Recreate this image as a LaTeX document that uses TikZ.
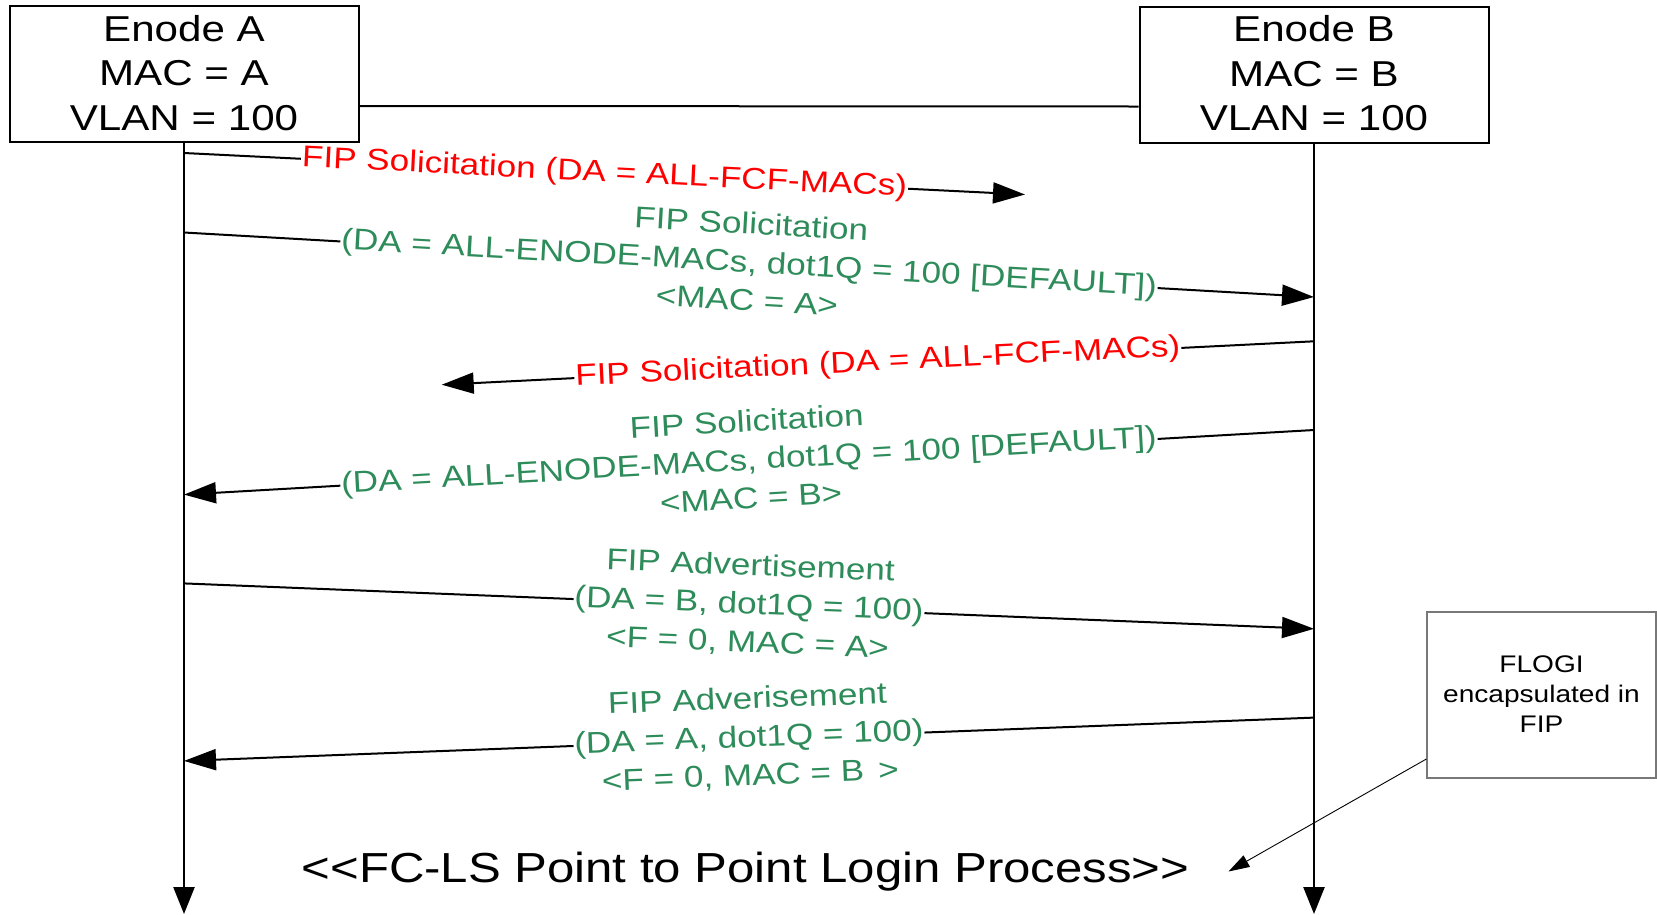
\documentclass[tikz,border=0pt]{standalone}
\usepackage{fontspec}
\setmainfont{Liberation Sans}[Ligatures=TeXOff]
\usetikzlibrary{arrows.meta}
\definecolor{fipred}{RGB}{255,0,0}
\definecolor{fipgreen}{RGB}{46,140,90}
\definecolor{notegray}{RGB}{120,120,120}
\newcommand\wx[1]{\scalebox{1.17}[1]{#1}}
\newcommand\boxfont{\fontsize{36}{44.5}\selectfont}
\newcommand\lblfont{\fontsize{30}{38.5}\selectfont}
\newcommand\notefont{\fontsize{24}{30}\selectfont}
\newcommand\bigfont{\fontsize{42}{50}\selectfont}
\newcommand\stack[1]{\begin{tabular}{@{}c@{}}#1\end{tabular}}
\tikzset{
  enodebox/.style={draw, line width=2pt, minimum width=349pt, minimum height=136pt, inner sep=0pt},
  boxtext/.style={inner sep=0pt, font=\boxfont},
  lifeline/.style={line width=2.5pt, -{Triangle[length=27pt,width=21pt]}},
  msg/.style={line width=2pt, -{Triangle[length=32pt,width=21pt]}},
  redlbl/.style={midway, sloped, fill=white, inner sep=1pt, text=fipred, font=\lblfont},
  greenlbl/.style={midway, sloped, fill=white, inner sep=1pt, text=fipgreen, font=\lblfont},
  notebox/.style={draw=notegray, line width=1.3pt, fill=white, minimum width=229pt, minimum height=166pt, inner sep=0pt},
  notearrow/.style={line width=0.9pt, -{Triangle[length=21pt,width=13pt]}},
}
\begin{document}
\begin{tikzpicture}[x=1pt, y=-1pt]
\useasboundingbox (0,0) rectangle (1657,914);

% Enode boxes
\node[enodebox] (A) at (184,74) {};
\node[boxtext] (Atext) at ([yshift=-3pt]A.center) {\wx{\stack{Enode A\\MAC = A\\VLAN = 100}}};
\node[enodebox] (B) at (1314,74.5) {};
\node[boxtext] (Btext) at ([yshift=-3pt]B.center) {\wx{\stack{Enode B\\MAC = B\\VLAN = 100}}};
\draw[line width=2pt] ([yshift=-32pt]A.east) -- ([yshift=-32pt]B.west);

% lifelines
\coordinate (Aend) at (184,914);
\coordinate (Bend) at (1314,914);
\draw[lifeline] (A.south) -- (Aend);
\draw[lifeline] (B.south) -- (Bend);

% message coordinates
\coordinate (a1) at (184,153);
\coordinate (e1) at (1025,194.5);
\coordinate (a2) at (184,232.5);
\coordinate (b2) at (1314,297);
\coordinate (b3) at (1314,341.3);
\coordinate (e3) at (441.7,384.7);
\coordinate (b4) at (1314,430);
\coordinate (a4) at (184,494.6);
\coordinate (a5) at (184,583.4);
\coordinate (b5) at (1314,628.8);
\coordinate (b6) at (1314,717.6);
\coordinate (a6) at (184,760.9);

% messages
\draw[msg] (a1) -- node[redlbl] (l1) {\wx{FIP Solicitation (DA = ALL-FCF-MACs)}} (e1);
\draw[msg] (a2) -- node[greenlbl] (l2) {\wx{\stack{FIP Solicitation\\(DA = ALL-ENODE-MACs, dot1Q = 100 [DEFAULT])\\<MAC = A>}}} (b2);
\draw[msg] (b3) -- node[redlbl] (l3) {\wx{FIP Solicitation (DA = ALL-FCF-MACs)}} (e3);
\draw[msg] (b4) -- node[greenlbl] (l4) {\wx{\stack{FIP Solicitation\\(DA = ALL-ENODE-MACs, dot1Q = 100 [DEFAULT])\\<MAC = B>}}} (a4);
\draw[msg] (a5) -- node[greenlbl] (l5) {\wx{\stack{FIP Advertisement\\(DA = B, dot1Q = 100)\\<F = 0, MAC = A>}}} (b5);
\draw[msg] (b6) -- node[greenlbl] (l6) {\wx{\stack{FIP Adverisement\\(DA = A, dot1Q = 100)\\<F = 0, MAC = B\hspace{0.4em}>}}} (a6);

% note
\node[notebox] (note) at (1541.5,695) {};
\node[font=\notefont, inner sep=0pt] (notetext) at ([yshift=-1pt]note.center) {\wx{\stack{FLOGI\\encapsulated in\\FIP}}};
\coordinate (nt) at (1228.5,871.5);
\draw[notearrow] ([yshift=-64pt]note.west) -- (nt);

% bottom text
\node[font=\bigfont, anchor=base, inner sep=0pt] (fcls) at (745.5,882) {\wx{<<FC-LS Point to Point Login Process>>}};
\end{tikzpicture}
\end{document}
